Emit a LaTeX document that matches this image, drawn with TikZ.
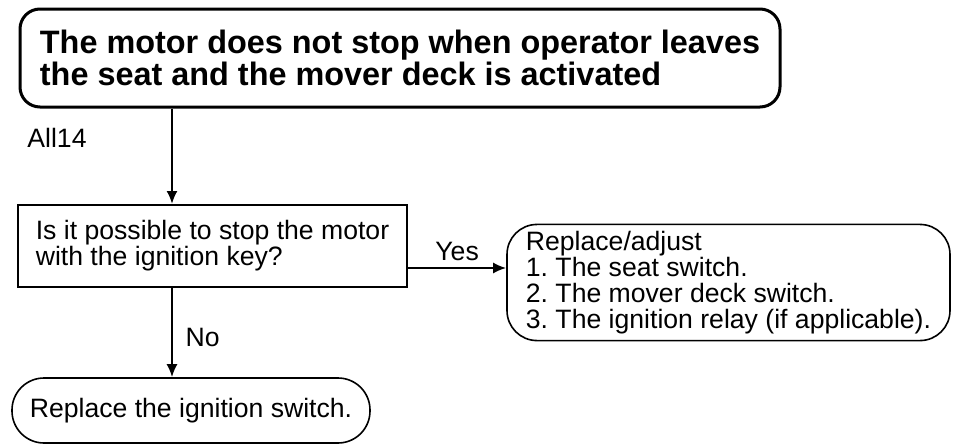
\documentclass[tikz,border=0pt]{standalone}
\usepackage{fontspec}
\setmainfont{Liberation Sans}
\usetikzlibrary{arrows.meta}
\frenchspacing

\begin{document}
\begin{tikzpicture}[x=0.5pt, y=-0.5pt, >={Latex[length=6.5pt,width=5.5pt]},
  font=\fontsize{13.3}{13}\selectfont,
  top/.style = {draw, line width=1.5pt, rounded corners=10pt, align=left, minimum width=380pt, minimum height=49pt, font=\bfseries\fontsize{16.2}{16}\selectfont},
  main/.style = {draw, line width=1pt, align=left, minimum width=194.5pt, minimum height=41pt},
  term/.style = {draw, line width=0.8pt, align=left},
  link/.style = {->, line width=1pt}]
\useasboundingbox (0,0) rectangle (954,445);

\node[top] (1) at (400,58) {The motor does not stop when operator leaves\\the seat and the mover deck is activated};
\node[main] (2) at (212.5,246) {Is it possible to stop the motor\\with the ignition key?};
\node[term, rounded corners=15pt, minimum width=221.5pt, minimum height=57.5pt] (3) at (728.5,282.5) {Replace/adjust\\1. The seat switch.\\2. The mover deck switch.\\3. The ignition relay (if applicable).};
\node[term, rounded corners=16pt, minimum width=179pt, minimum height=32.5pt] (4) at (191,410.5) {Replace the ignition switch.};
\node (5) at (57,138) {All14};

\coordinate (a) at (172,0);
\coordinate (b) at (0,268);

\draw[link] (a |- 1.south) -- (a |- 2.north);
\draw[link] (a |- 2.south) -- node[right=3pt, pos=0.55] {No} (a |- 4.north);
\draw[link] (2.east |- b) -- node[above] {Yes} (3.west |- b);

\end{tikzpicture}
\end{document}
